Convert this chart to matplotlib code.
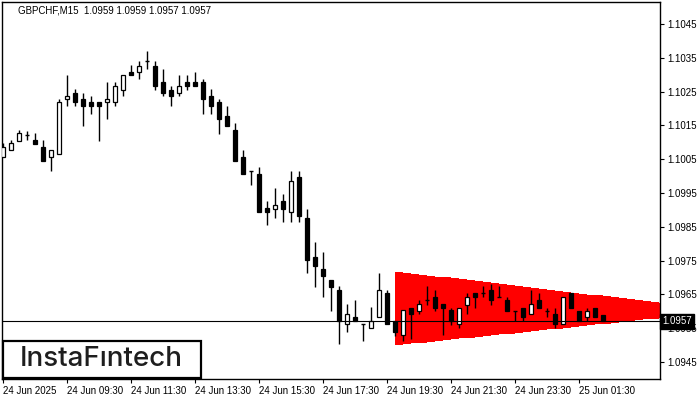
"""
GBPCHF M15 candlestick chart with a bearish symmetrical triangle pattern.
"""

import numpy as np
import matplotlib
matplotlib.use("Agg")
import matplotlib.pyplot as plt
import matplotlib.transforms as mtransforms
from matplotlib.patches import Rectangle

symbol = "GBPCHF,M15"
last_quote = [1.0959, 1.0959, 1.0957, 1.0957]   # O H L C of the last bar
current_price = 1.0957

# one bar per 15 minutes, 24 Jun 07:30 .. 25 Jun 02:15
opens = [
    1.10057, 1.10076, 1.10105, 1.10122, 1.10107, 1.10086, 1.10057, 1.10064,
    1.10228, 1.10247, 1.10228, 1.10218, 1.10218, 1.10218, 1.10218, 1.10256,
    1.10307, 1.10307, 1.10341, 1.10327, 1.10277, 1.10256, 1.10247, 1.10277,
    1.10277, 1.10277, 1.10237, 1.10219, 1.10178, 1.10136, 1.10057, 1.10015,
    1.10006, 1.09906, 1.09904, 1.09926, 1.09895, 1.09997, 1.09875, 1.09762,
    1.09725, 1.09693, 1.09663, 1.09561, 1.09583, 1.09562, 1.09552, 1.09582,
    1.09654, 1.09570, 1.09531, 1.09611, 1.09602, 1.09632, 1.09641, 1.09622,
    1.09604, 1.09561, 1.09620, 1.09653, 1.09653, 1.09663, 1.09641, 1.09633,
    1.09602, 1.09611, 1.09591, 1.09633, 1.09602, 1.09591, 1.09561, 1.09653,
    1.09602, 1.09582, 1.09611, 1.09590,
]
highs = [
    1.10098, 1.10107, 1.10136, 1.10133, 1.10128, 1.10107, 1.10076, 1.10228,
    1.10299, 1.10258, 1.10247, 1.10237, 1.10218, 1.10278, 1.10278, 1.10298,
    1.10329, 1.10341, 1.10370, 1.10341, 1.10318, 1.10268, 1.10298, 1.10298,
    1.10308, 1.10287, 1.10258, 1.10228, 1.10207, 1.10157, 1.10077, 1.10015,
    1.10027, 1.09926, 1.09965, 1.09947, 1.10015, 1.10015, 1.09904, 1.09804,
    1.09774, 1.09693, 1.09675, 1.09622, 1.09633, 1.09562, 1.09613, 1.09712,
    1.09663, 1.09570, 1.09604, 1.09611, 1.09633, 1.09675, 1.09663, 1.09622,
    1.09611, 1.09611, 1.09653, 1.09653, 1.09675, 1.09682, 1.09675, 1.09641,
    1.09602, 1.09611, 1.09663, 1.09653, 1.09611, 1.09611, 1.09641, 1.09653,
    1.09602, 1.09611, 1.09611, 1.09590,
]
lows = [
    1.10057, 1.10076, 1.10105, 1.10107, 1.10095, 1.10046, 1.10014, 1.10064,
    1.10206, 1.10206, 1.10147, 1.10185, 1.10105, 1.10168, 1.10206, 1.10236,
    1.10298, 1.10286, 1.10318, 1.10256, 1.10236, 1.10206, 1.10236, 1.10256,
    1.10268, 1.10185, 1.10185, 1.10126, 1.10147, 1.10046, 1.10005, 1.09975,
    1.09895, 1.09854, 1.09875, 1.09863, 1.09863, 1.09863, 1.09712, 1.09673,
    1.09641, 1.09602, 1.09502, 1.09540, 1.09571, 1.09511, 1.09552, 1.09582,
    1.09561, 1.09527, 1.09511, 1.09518, 1.09591, 1.09620, 1.09602, 1.09530,
    1.09559, 1.09552, 1.09591, 1.09611, 1.09641, 1.09620, 1.09641, 1.09602,
    1.09570, 1.09570, 1.09591, 1.09611, 1.09582, 1.09552, 1.09561, 1.09611,
    1.09571, 1.09571, 1.09582, 1.09570,
]
closes = [
    1.10086, 1.10098, 1.10128, 1.10122, 1.10095, 1.10046, 1.10076, 1.10219,
    1.10237, 1.10218, 1.10206, 1.10206, 1.10206, 1.10227, 1.10268, 1.10298,
    1.10298, 1.10327, 1.10341, 1.10268, 1.10247, 1.10236, 1.10268, 1.10268,
    1.10268, 1.10227, 1.10206, 1.10168, 1.10147, 1.10046, 1.10005, 1.10015,
    1.09895, 1.09895, 1.09915, 1.09904, 1.09986, 1.09883, 1.09753, 1.09733,
    1.09703, 1.09673, 1.09571, 1.09591, 1.09571, 1.09562, 1.09570, 1.09663,
    1.09561, 1.09540, 1.09604, 1.09591, 1.09622, 1.09632, 1.09611, 1.09611,
    1.09571, 1.09611, 1.09641, 1.09641, 1.09653, 1.09632, 1.09641, 1.09602,
    1.09602, 1.09582, 1.09622, 1.09611, 1.09602, 1.09561, 1.09641, 1.09611,
    1.09571, 1.09602, 1.09582, 1.09570,
]

time_labels = [
    "24 Jun 2025", "24 Jun 09:30", "24 Jun 11:30", "24 Jun 13:30",
    "24 Jun 15:30", "24 Jun 17:30", "24 Jun 19:30", "24 Jun 21:30",
    "24 Jun 23:30", "25 Jun 01:30",
]
price_ticks = [1.0945, 1.0955, 1.0965, 1.0975, 1.0985, 1.0995,
               1.1005, 1.1015, 1.1025, 1.1035, 1.1045]

# triangle pattern: starts at bar 49, converges to the apex
tri_start = 49
tri_upper = 1.09717
tri_lower = 1.09500
tri_apex = 90.3
tri_apex_price = 1.09601

o = np.array(opens)
h = np.array(highs)
l = np.array(lows)
c = np.array(closes)
x = np.arange(len(o))

fig = plt.figure(figsize=(7, 4), dpi=100)
ax = fig.add_axes([2 / 700, 21 / 400, 658 / 700, 377 / 400])
ax.set_xlim(-0.125, 82.125)
ax.set_ylim(1.093997, 1.105151)

# stepped red triangle
tx = np.arange(tri_start, 85)
upper = np.interp(tx, [tri_start, tri_apex], [tri_upper, tri_apex_price])
lower = np.interp(tx, [tri_start, tri_apex], [tri_lower, tri_apex_price])
ax.fill_between(tx, lower, upper, step="post", color="#ff0000", lw=0, zorder=1)

# candles
ax.vlines(x, l, h, color="black", lw=1, zorder=3)
up = c > o
down = c < o
flat = c == o
bw = 0.55
ax.bar(x[up], (c - o)[up], bottom=o[up], width=bw,
       facecolor="white", edgecolor="black", lw=0.9, zorder=4)
ax.bar(x[down], (o - c)[down], bottom=c[down], width=bw,
       facecolor="black", edgecolor="black", lw=0.9, zorder=4)
ax.hlines(o[flat], x[flat] - bw / 2, x[flat] + bw / 2, color="black", lw=1, zorder=4)

ax.axhline(current_price, color="black", lw=0.8, zorder=5)

# axes styling
for sp in ax.spines.values():
    sp.set_color("black")
    sp.set_linewidth(1)
ax.yaxis.tick_right()
ax.set_yticks(price_ticks)
ax.set_yticklabels([f"{p:.4f}" for p in price_ticks])
ax.set_xticks(np.arange(0, len(o), 8))
ax.set_xticklabels(time_labels)
for lbl in ax.get_xticklabels():
    lbl.set_ha("left")
ax.tick_params(axis="y", direction="out", length=3, width=0.8, pad=2,
               labelsize=7, labelfontfamily="Liberation Sans")
ax.tick_params(axis="x", direction="out", length=3, width=0.8, pad=2,
               labelsize=7, labelfontfamily="Liberation Sans")

# header
fig.text(18 / 700, 1 - 10.5 / 400,
         symbol + "  " + " ".join(f"{v:.4f}" for v in last_quote),
         fontsize=7, family="Liberation Sans", va="center", ha="left")

# current price tag on the right axis
trans = mtransforms.blended_transform_factory(ax.transAxes, ax.transData)
ax.text(1.003, current_price, f"{current_price:.4f}", transform=trans,
        color="white", fontsize=7, family="Liberation Sans", va="center", ha="left",
        bbox=dict(facecolor="black", edgecolor="black", pad=1.6),
        clip_on=False, zorder=10)

# logo box
fig.add_artist(Rectangle((3 / 700, 22 / 400), 198 / 700, 37 / 400,
                         transform=fig.transFigure, facecolor="white",
                         edgecolor="black", lw=1.6, zorder=10))
fig.text(101.7 / 700, 1 - 359 / 400, "InstaF\u0131ntech", ha="center", va="center",
         fontsize=20, family="Inter", weight="medium", color="#1e1e1e", zorder=11)

fig.savefig("out.png", dpi=100, facecolor="white")
